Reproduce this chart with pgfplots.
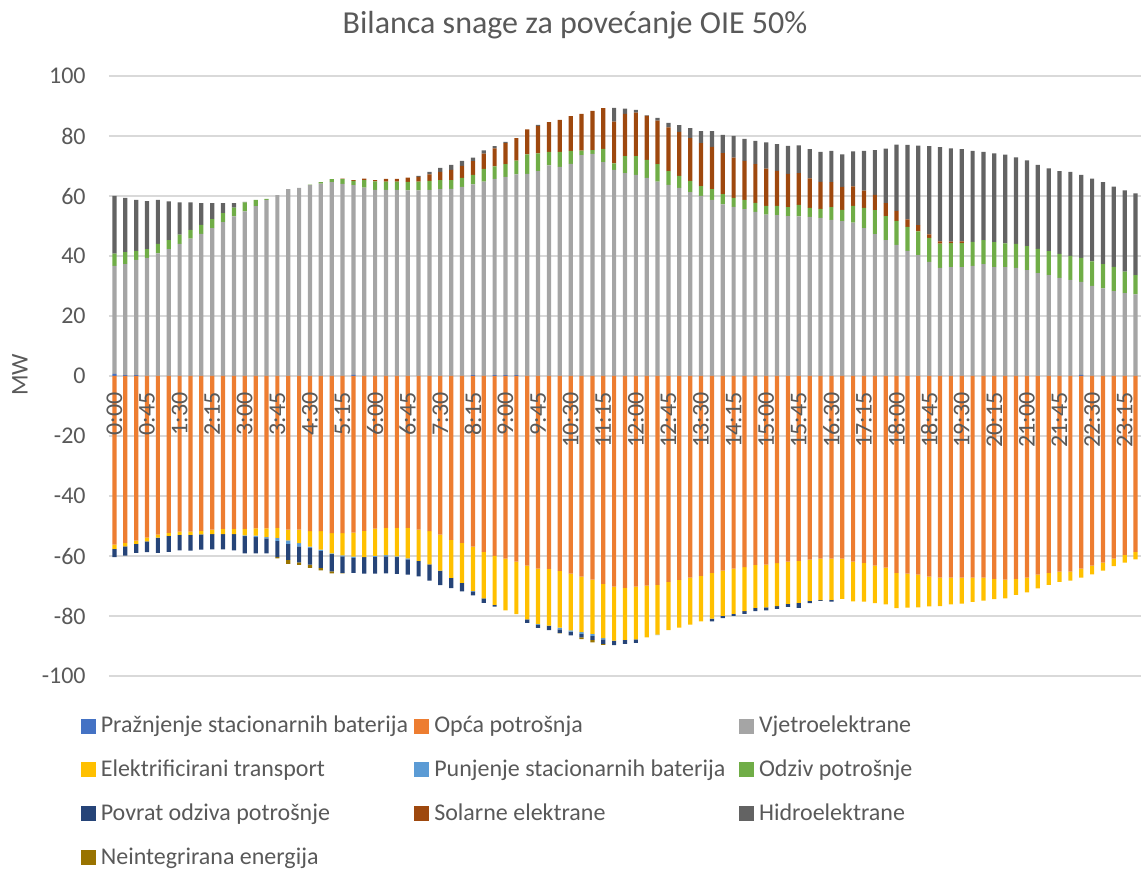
\documentclass[border=0pt]{standalone}
\usepackage{pgfplots}
\pgfplotsset{compat=1.18}
\usepackage{pgfplotstable}
\usepackage{fontspec}
\setmainfont{Carlito}
\definecolor{cPr}{HTML}{4472C4}
\definecolor{cOp}{HTML}{ED7D31}
\definecolor{cVj}{HTML}{A5A5A5}
\definecolor{cEl}{HTML}{FFC000}
\definecolor{cPu}{HTML}{5B9BD5}
\definecolor{cOd}{HTML}{70AD47}
\definecolor{cPo}{HTML}{264478}
\definecolor{cSo}{HTML}{9E480E}
\definecolor{cHi}{HTML}{636363}
\definecolor{cNi}{HTML}{997300}
\definecolor{txt}{HTML}{595959}
\definecolor{grd}{HTML}{D9D9D9}

\pgfplotstableread{
x pr v o sol hyd opc el pu pov ni
0 0.7 36.0 4.1 0 19.2 -56.2 -1.4 0 -2.8 0
1 0.3 37.0 4.0 0 18.1 -55.6 -1.2 0 -3.1 0
2 0.3 38.4 3.0 0 17.0 -54.9 -1.1 0 -3.0 0
3 0 39.4 2.9 0 16.0 -53.9 -1.2 0 -3.6 0
4 0 40.9 3.1 0 14.7 -52.9 -1.0 0 -5.1 0
5 0 42.3 3.0 0 12.9 -52.3 -1.0 0 -5.3 0
6 0 44.0 3.1 0 10.8 -51.9 -1.1 0 -5.1 0
7 0 45.8 2.9 0 9.2 -51.9 -1.1 0 -5.2 0
8 0 47.4 3.0 0 7.2 -51.6 -1.2 0 -5.1 0
9 0 49.3 3.0 0 5.3 -51.2 -1.5 0 -5.1 0
10 0 51.3 3.0 0 3.3 -51.0 -1.7 0 -5.1 0
11 0 53.2 2.9 0 1.5 -51.0 -1.7 0 -5.4 0
12 0 54.9 3.0 0 0.1 -51.0 -2.1 -0.3 -5.7 0
13 0 56.6 2.1 0 0 -50.8 -2.4 -0.5 -5.4 0
14 0 58.7 0.3 0 0 -50.8 -2.9 -0.4 -5.0 0
15 0 60.3 0 0 0 -50.6 -3.4 -1.0 -5.4 -0.4
16 0 62.3 0 0 0 -51.2 -3.6 -1.2 -5.3 -1.3
17 0 62.7 0 0 0 -51.2 -4.5 -1.1 -5.3 -0.9
18 0 63.6 0.2 0 0 -51.7 -5.2 -0.5 -5.5 -1.1
19 0 64.1 0.5 0 0 -51.7 -6.2 -0.4 -5.7 -0.8
20 0 64.6 1.0 0 0 -52.4 -6.7 -0.3 -5.7 -0.7
21 0 64.0 1.6 0.2 0 -52.4 -7.4 -0.3 -5.5 -0.2
22 0.4 63.2 1.4 0.3 0 -52.2 -8.0 -0.4 -5.0 0
23 0 62.8 2.5 0.5 0 -51.6 -8.8 0 -5.5 0
24 0 62.0 2.9 0.4 0 -50.9 -9.1 -0.3 -5.6 0
25 0 62.0 2.8 0.9 0 -50.6 -9.1 -0.4 -5.7 0
26 0 62.0 2.8 0.9 0 -50.6 -9.5 -0.3 -5.6 0
27 0 61.9 2.8 1.4 0 -50.6 -10.2 -0.3 -5.1 0
28 0 61.9 2.9 1.6 0.3 -51.2 -10.4 0 -5.2 0
29 0 62.0 3.0 2.2 0.8 -51.7 -11.1 0 -5.4 0
30 0 62.3 3.0 2.7 1.4 -52.9 -12.0 0 -4.8 0
31 0 62.4 2.9 3.4 1.7 -54.6 -12.7 0 -3.4 0
32 0 63.0 3.0 4.0 1.7 -55.6 -13.4 0 -2.8 0
33 0.3 63.6 3.1 4.6 1.2 -56.9 -14.7 -0.2 -1.3 0
34 0 64.8 4.2 5.1 1.1 -58.6 -15.5 0 -1.5 0
35 0.3 65.4 4.2 6.0 0.7 -60.0 -16.3 0 -0.6 0
36 0.3 66.1 4.2 7.0 0.4 -60.9 -17.2 0 0 0
37 0.3 66.9 4.6 7.5 0 -61.9 -17.5 0 0 0
38 0 67.4 6.5 8.3 0 -63.2 -17.9 0 -1.2 0
39 0 68.3 5.9 9.1 0.4 -64.2 -18.5 -0.3 -1.0 0
40 0 70.2 4.5 9.9 0 -64.3 -18.9 0 -1.5 0
41 0 69.7 5.0 10.7 0 -65.0 -18.9 -0.6 -1.1 -0.2
42 0 70.7 4.3 11.6 0 -65.9 -18.9 -0.4 -1.3 0
43 0 73.6 1.5 12.3 0 -66.9 -18.5 -0.6 -1.1 -0.6
44 0 74.0 1.3 13.1 0 -67.9 -18.1 -0.6 -1.4 -0.8
45 0 71.3 4.4 13.6 0 -69.3 -18.1 -0.4 -1.5 -0.3
46 0 68.7 2.2 13.9 4.6 -70.2 -18.0 0 -1.5 0
47 0 67.6 5.7 14.1 1.7 -70.6 -17.4 0 -1.3 0
48 0 67.0 6.3 14.5 0.9 -70.2 -17.6 0 -1.2 0
49 0 66.0 6.0 14.7 0.2 -69.9 -17.2 0 0 0
50 0 64.8 5.8 14.5 0.9 -69.6 -16.6 -0.2 0 0
51 0 63.7 4.6 14.6 1.5 -68.6 -16.1 0 0 0
52 0 62.7 4.0 14.7 2.2 -68.0 -15.9 0 0 0
53 0 61.3 3.7 14.3 3.3 -67.2 -15.7 0 0 0
54 0 60.0 3.3 14.3 4.0 -66.6 -15.2 0 0 0
55 0 58.7 3.6 14.1 5.2 -65.6 -15.3 0 -0.9 0
56 0 57.2 3.4 13.7 6.1 -64.9 -15.1 0 -0.7 0
57 0 56.4 3.0 13.4 7.2 -64.2 -15.1 0 -0.7 0
58 0 55.6 3.1 13.0 7.3 -63.7 -14.7 0 -0.9 0
59 0 54.7 3.0 12.9 7.8 -63.0 -14.3 0 -1.1 0
60 0 53.8 2.9 12.4 8.8 -62.9 -14.2 0 -1.0 0
61 0 53.6 3.1 11.7 8.9 -62.4 -14.3 0 -0.9 0
62 0 53.3 3.0 11.1 9.3 -61.9 -14.1 0 -1.0 0
63 0 53.2 3.8 10.6 9.3 -61.6 -14.0 0 -1.7 0
64 0 53.0 3.0 9.9 9.7 -61.2 -13.8 0 -0.7 0
65 0 52.7 3.0 9.0 10.0 -60.9 -13.8 0 -0.3 0
66 0 52.0 4.3 8.3 10.4 -60.9 -13.7 0 -0.6 0
67 0 51.6 3.8 7.6 10.9 -60.9 -13.4 0 0 0
68 0 51.1 5.6 6.5 11.7 -61.9 -13.2 0 0 0
69 0 49.3 6.7 5.8 13.2 -62.3 -12.9 0 0 0
70 0 47.3 8.0 5.1 14.9 -63.2 -12.5 0 0 0
71 0 45.3 8.0 4.3 18.2 -63.9 -12.2 0 0 0
72 0 43.7 8.0 3.3 22.1 -65.6 -11.8 0 0 0
73 0 41.7 8.0 2.5 24.8 -65.9 -11.3 0 0 0
74 0 40.3 7.9 2.1 26.5 -66.2 -10.9 0 0 0
75 0 38.0 8.0 1.2 29.4 -66.9 -9.9 0 0 0
76 0 36.0 8.1 0.8 31.4 -67.2 -9.5 0 0 0
77 0 36.3 8.0 0.5 31.1 -67.2 -8.9 0 0 0
78 0 36.3 8.0 0.6 30.7 -67.2 -8.7 0 0 0
79 0 36.7 8.0 0 30.3 -67.2 -8.1 0 0 0
80 0 37.3 8.0 0 29.4 -67.2 -7.7 0 0 0
81 0 36.3 8.3 0 29.6 -67.6 -6.8 0 0 0
82 0 36.3 7.9 0 29.6 -67.9 -6.2 0 0 0
83 0 36.0 8.0 0 28.9 -67.6 -5.4 0 0 0
84 0 35.3 8.0 0 28.6 -67.2 -4.9 0 0 0
85 0 34.3 8.1 0 28.0 -66.2 -4.6 0 0 0
86 0 33.6 8.0 0 27.6 -65.6 -4.0 0 0 0
87 0 32.7 8.0 0 27.6 -65.2 -3.4 0 0 0
88 0 32.0 8.0 0 28.0 -65.2 -3.0 0 0 0
89 0.4 31.0 8.0 0 27.6 -64.2 -3.0 0 0 0
90 0 30.0 8.2 0 27.6 -63.2 -2.9 0 0 0
91 0 29.2 8.1 0 27.3 -62.2 -2.7 0 0 0
92 0 28.3 8.1 0 26.7 -60.9 -2.5 0 0 0
93 0 27.6 7.2 0 27.1 -59.6 -2.6 0 0 0
94 0 27.2 6.4 0 27.3 -58.6 -2.5 0 0 0
}\data

\pgfplotsset{
  lims/.style={
    at={(54.5pt,98pt)}, anchor=south west,
    scale only axis, width=516pt, height=300pt,
    xmin=-0.5, xmax=94.5, ymin=-100, ymax=100,
  },
  common/.style={lims, ybar stacked, bar width=2.1pt},
  sq/.style={legend image code/.code={\fill[#1] (0pt,0pt) rectangle (7pt,7pt);}},
}
\newcommand{\lf}{\fontsize{12}{14}\selectfont}
\newcommand{\lgent}[2]{\makebox[#1][l]{\hspace{2.5pt}\rule[-5pt]{0pt}{17pt}#2}}

\begin{document}
\begin{tikzpicture}
\useasboundingbox (0,0) rectangle (570.5pt,436pt);
\begin{axis}[common,
  axis line style={draw=none},
  major tick length=0pt, tick style={draw=none},
  ymajorgrids, grid style={grd, line width=1pt},
  ytick={-100,-80,-60,-40,-20,0,20,40,60,80,100},
  yticklabels={-100,-80,-60,-40,-20,0,20,40,60,80,100},
  xtick=\empty,
  y tick label style={anchor=east, inner sep=0pt, xshift=-11.5pt, font=\lf, text=txt},
  title={Bilanca snage za povećanje OIE 50\%},
  title style={at={(axis description cs:0.4516,1.0712)}, anchor=base, yshift=-6pt, inner sep=0pt, font=\fontsize{16}{18}\selectfont, text=txt},
  ylabel={MW},
  ylabel style={at={(axis description cs:-0.0862,0.5017)}, anchor=center, inner sep=0pt, font=\lf, text=txt},
  legend columns=3,
  legend cell align=left,
  legend style={at={(axis description cs:-0.02713,-0.0550)}, anchor=north west,
    draw=none, fill=none, inner sep=0pt, outer sep=0pt, row sep=8.4pt,
    /tikz/column sep=0pt,
    /tikz/every even column/.style={column sep=0pt},
    /tikz/every odd column/.style={column sep=0pt},
    nodes={inner sep=0pt, outer sep=0pt, anchor=base west, text=txt, font=\lf}},
]
\addplot[fill=cPr, draw=none, forget plot] table[x=x, y=pr] {\data};
\addplot[fill=cVj, draw=none, forget plot] table[x=x, y=v] {\data};
\addplot[fill=cOd, draw=none, forget plot] table[x=x, y=o] {\data};
\addplot[fill=cSo, draw=none, forget plot] table[x=x, y=sol] {\data};
\addplot[fill=cHi, draw=none, forget plot] table[x=x, y=hyd] {\data};
\addlegendimage{sq=cPr}
\addlegendentry{\lgent{159.35pt}{Pražnjenje stacionarnih baterija}}
\addlegendimage{sq=cOp}
\addlegendentry{\lgent{155pt}{Opća potrošnja}}
\addlegendimage{sq=cVj}
\addlegendentry{\lgent{100pt}{Vjetroelektrane}}
\addlegendimage{sq=cEl}
\addlegendentry{\lgent{159.35pt}{Elektrificirani transport}}
\addlegendimage{sq=cPu}
\addlegendentry{\lgent{155pt}{Punjenje stacionarnih baterija}}
\addlegendimage{sq=cOd}
\addlegendentry{\lgent{100pt}{Odziv potrošnje}}
\addlegendimage{sq=cPo}
\addlegendentry{\lgent{159.35pt}{Povrat odziva potrošnje}}
\addlegendimage{sq=cSo}
\addlegendentry{\lgent{155pt}{Solarne elektrane}}
\addlegendimage{sq=cHi}
\addlegendentry{\lgent{100pt}{Hidroelektrane}}
\addlegendimage{sq=cNi}
\addlegendentry{\lgent{159.35pt}{Neintegrirana energija}}
\end{axis}
\begin{axis}[common, hide axis]
\addplot[fill=cOp, draw=none] table[x=x, y=opc] {\data};
\addplot[fill=cEl, draw=none] table[x=x, y=el] {\data};
\addplot[fill=cPu, draw=none] table[x=x, y=pu] {\data};
\addplot[fill=cPo, draw=none] table[x=x, y=pov] {\data};
\addplot[fill=cNi, draw=none] table[x=x, y=ni] {\data};
\end{axis}
\begin{axis}[lims,
  axis line style={draw=none},
  major tick length=0pt, tick style={draw=none},
  ytick=\empty,
  xtick={0,3,...,93},
  xticklabels={0:00,0:45,1:30,2:15,3:00,3:45,4:30,5:15,6:00,6:45,7:30,8:15,9:00,9:45,10:30,11:15,12:00,12:45,13:30,14:15,15:00,15:45,16:30,17:15,18:00,18:45,19:30,20:15,21:00,21:45,22:30,23:15},
  x tick label style={yshift=142pt, rotate=90, anchor=east, inner sep=0pt, font=\lf, text=txt},
]
\end{axis}
\end{tikzpicture}
\end{document}
